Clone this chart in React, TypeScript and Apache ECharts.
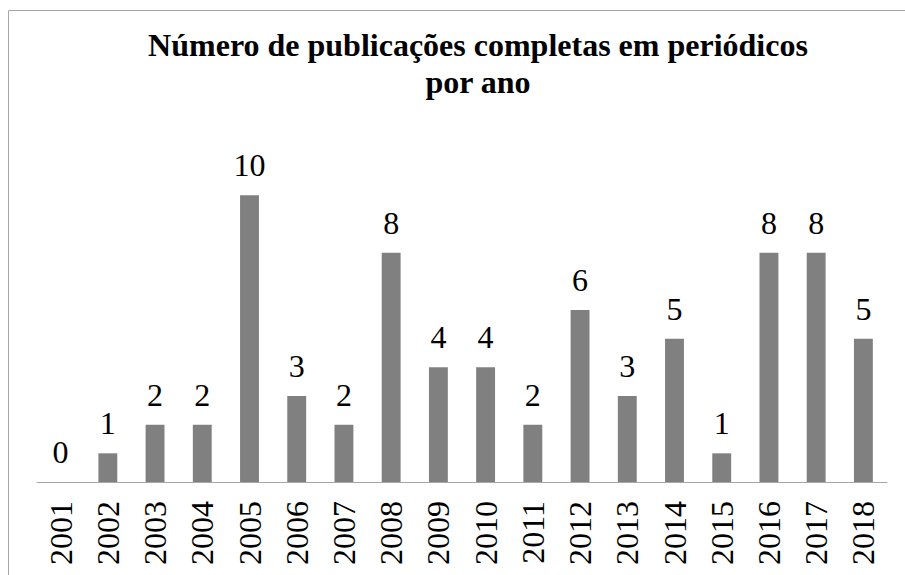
import React, { useEffect, useRef } from "react";
import * as echarts from "echarts";

const years = ["2001","2002","2003","2004","2005","2006","2007","2008","2009","2010","2011","2012","2013","2014","2015","2016","2017","2018"];
const counts = [0,1,2,2,10,3,2,8,4,4,2,6,3,5,1,8,8,5];
const titleLines = ["Número de publicações completas em periódicos", "por ano"];

const FONT = "Liberation Serif";

export default function App() {
  const ref = useRef<HTMLDivElement>(null);
  useEffect(() => {
    if (!ref.current) return;
    const chart = echarts.init(ref.current, null, { renderer: "svg" });
    chart.setOption({
      animation: false,
      backgroundColor: "#ffffff",
      graphic: [
        {
          type: "rect",
          shape: { x: 8.5, y: 10.5, width: 960, height: 620 },
          style: { fill: "none", stroke: "#a6a6a6", lineWidth: 1 },
          silent: true,
        },
        {
          type: "text",
          x: 478,
          y: 26,
          style: {
            text: titleLines.join("\n"),
            fontFamily: FONT,
            fontWeight: "bold",
            fontSize: 32,
            lineHeight: 37,
            fill: "#000",
            align: "center",
            verticalAlign: "top",
          },
        },
      ],
      grid: { left: 37, right: 18, top: 138, bottom: 93, containLabel: false },
      xAxis: {
        type: "category",
        data: years,
        axisLine: { lineStyle: { color: "#a6a6a6", width: 1 } },
        axisTick: { show: false },
        axisLabel: {
          rotate: 90,
          margin: 19,
          fontFamily: FONT,
          fontSize: 32,
          color: "#000",
          interval: 0,
        },
      },
      yAxis: {
        type: "value",
        min: 0,
        max: 12,
        show: false,
        splitLine: { show: false },
      },
      series: [
        {
          type: "bar",
          data: counts,
          barWidth: "40%",
          itemStyle: { color: "#808080" },
          label: {
            show: true,
            position: "top",
            distance: 14,
            fontFamily: FONT,
            fontSize: 32,
            color: "#000",
          },
        },
      ],
    });
    return () => chart.dispose();
  }, []);
  return (
    <div
      ref={ref}
      style={{ position: "fixed", left: 0, top: 0, width: 905, height: 575 }}
    />
  );
}
